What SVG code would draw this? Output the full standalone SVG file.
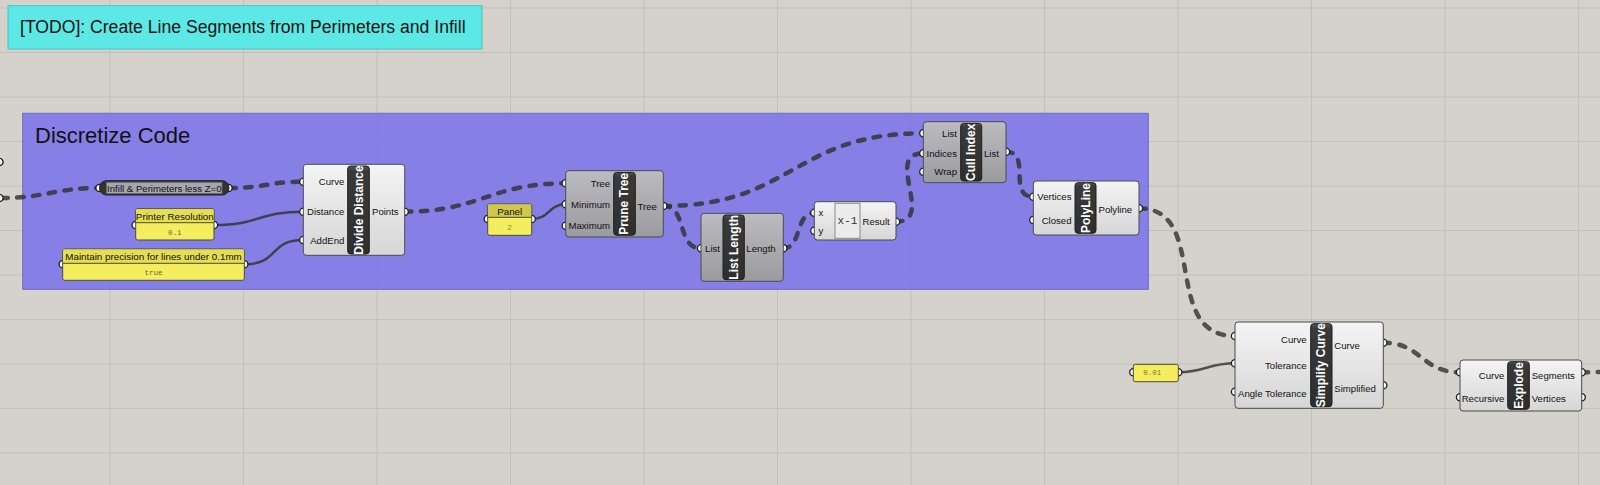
<svg xmlns="http://www.w3.org/2000/svg" width="1600" height="485" viewBox="0 0 1600 485">
<defs>
<linearGradient id="gLight" x1="0" y1="0" x2="0" y2="1"><stop offset="0" stop-color="#f4f4f4"/><stop offset="1" stop-color="#d6d6d6"/></linearGradient>
<linearGradient id="gGray" x1="0" y1="0" x2="0" y2="1"><stop offset="0" stop-color="#bcbcc0"/><stop offset="1" stop-color="#9a9a9f"/></linearGradient>
<linearGradient id="gBar" x1="0" y1="0" x2="0" y2="1"><stop offset="0" stop-color="#555"/><stop offset="0.06" stop-color="#3a3a3a"/><stop offset="1" stop-color="#2e2e2e"/></linearGradient>
<style>
.grid{stroke:#c3bfb9;stroke-width:1}
.body-l{fill:url(#gLight);stroke:#4a4a4a;stroke-width:1}
.body-g{fill:url(#gGray);stroke:#4a4a4a;stroke-width:1}
.bar{fill:url(#gBar);stroke:#1e1e1e;stroke-width:1}
.bt{font-family:"Liberation Sans",Arial,sans-serif;font-weight:bold;font-size:12px;fill:#fff;text-anchor:middle;dominant-baseline:central}
.lbl{font-family:"Liberation Sans",Arial,sans-serif;font-size:9.6px;fill:#111;dominant-baseline:central}
.in{text-anchor:end}
.grip{fill:#fff;stroke:#1e1e1e;stroke-width:1.3}
.wd{fill:none;stroke:#2d2d2d;stroke-opacity:0.78;stroke-width:4.5;stroke-dasharray:6.5 9.5;stroke-linecap:round}
.ws{fill:none;stroke:#2d2d2d;stroke-opacity:0.78;stroke-width:2.5}
.pbody{fill:#f4ee5e;stroke:#4a4a38;stroke-width:1}
.phead{fill:#e6de52}
.ptitle{font-family:"Liberation Sans",Arial,sans-serif;font-size:9.8px;fill:#111;text-anchor:middle;dominant-baseline:central}
.pval{font-family:"Liberation Mono","DejaVu Sans Mono",monospace;font-size:7.5px;fill:#666644;text-anchor:middle;dominant-baseline:central}
</style>
</defs>
<rect x="0" y="0" width="1600" height="485" fill="#d5d1cb"/>
<g id="grid">
<line class="grid" x1="110" y1="0" x2="110" y2="485"/>
<line class="grid" x1="243.5" y1="0" x2="243.5" y2="485"/>
<line class="grid" x1="377" y1="0" x2="377" y2="485"/>
<line class="grid" x1="510.5" y1="0" x2="510.5" y2="485"/>
<line class="grid" x1="644" y1="0" x2="644" y2="485"/>
<line class="grid" x1="777.5" y1="0" x2="777.5" y2="485"/>
<line class="grid" x1="911" y1="0" x2="911" y2="485"/>
<line class="grid" x1="1044.5" y1="0" x2="1044.5" y2="485"/>
<line class="grid" x1="1178" y1="0" x2="1178" y2="485"/>
<line class="grid" x1="1311.5" y1="0" x2="1311.5" y2="485"/>
<line class="grid" x1="1445" y1="0" x2="1445" y2="485"/>
<line class="grid" x1="1578.5" y1="0" x2="1578.5" y2="485"/>
<line class="grid" x1="0" y1="8" x2="1600" y2="8"/>
<line class="grid" x1="0" y1="52.5" x2="1600" y2="52.5"/>
<line class="grid" x1="0" y1="97" x2="1600" y2="97"/>
<line class="grid" x1="0" y1="141.5" x2="1600" y2="141.5"/>
<line class="grid" x1="0" y1="186" x2="1600" y2="186"/>
<line class="grid" x1="0" y1="230.5" x2="1600" y2="230.5"/>
<line class="grid" x1="0" y1="275" x2="1600" y2="275"/>
<line class="grid" x1="0" y1="319.5" x2="1600" y2="319.5"/>
<line class="grid" x1="0" y1="364" x2="1600" y2="364"/>
<line class="grid" x1="0" y1="408.5" x2="1600" y2="408.5"/>
<line class="grid" x1="0" y1="453" x2="1600" y2="453"/>
</g>

<g id="todo">
<rect x="8" y="5.7" width="474" height="43.3" fill="#5ce9e6" stroke="#46c6c3" stroke-width="1"/>
<text x="20" y="32.5" font-family="'Liberation Sans',Arial,sans-serif" font-size="17.6" fill="#111">[TODO]: Create Line Segments from Perimeters and Infill</text>
</g>

<g id="group-discretize">
<rect x="22.7" y="113.3" width="1125.6" height="176" fill="rgb(120,114,235)" fill-opacity="0.85" stroke="#6f69cc" stroke-width="1"/>
<text x="35" y="143.3" font-family="'Liberation Sans',Arial,sans-serif" font-size="22" fill="#111">Discretize Code</text>
</g>

<g id="connectors">
<path class="wd" d="M1,198 C45,198 55,188 99,188"/>
<path class="wd" d="M229,188 C265,188 268,181.7 303.3,181.7"/>
<path class="ws" d="M214,225 C260,225 258,211.7 303.3,211.7"/>
<path class="ws" d="M244.3,264.3 C280,264.3 268,240 303.3,240"/>
<path class="wd" d="M404.7,211.7 C480,211.7 490,183.3 565.7,183.3"/>
<path class="ws" d="M531.7,219 C550,219 548,204.3 565.7,204.3"/>
<path class="wd" d="M663.3,206 C793,206 793,133.3 923.3,133.3"/>
<path class="wd" d="M663.3,206 C688,206 676,248.3 701,248.3"/>
<path class="wd" d="M783.3,248.3 C802,248.3 795,212.7 814.3,212.7"/>
<path class="wd" d="M896,221.7 C936,221.7 883,153.3 923.3,153.3"/>
<path class="wd" d="M1006,151.7 C1032,151.7 1007,196.7 1033.3,196.7"/>
<path class="wd" d="M1139,208.3 C1210,208.3 1160,336 1235,336"/>
<path class="ws" d="M1178.3,372.3 C1205,372.3 1208,363.3 1235,363.3"/>
<path class="wd" d="M1383.3,342.7 C1422,342.7 1421,372.3 1460,372.3"/>
<path class="wd" d="M1581.7,372.3 L1602,372"/>
</g>

<g id="offscreen-grips">
<circle class="grip" cx="-0.5" cy="162" r="3.6"/>
<circle class="grip" cx="-0.5" cy="198" r="3.6"/>
</g>

<g id="relay-infill">
<circle class="grip" cx="99.5" cy="188" r="3.6"/>
<circle class="grip" cx="228.5" cy="188" r="3.6"/>
<rect x="99.5" y="180.7" width="129.5" height="14.3" rx="7" fill="#333" stroke="#1e1e1e"/>
<rect x="106.5" y="182.3" width="115.5" height="11.2" fill="#a6a6ac" stroke="#6a6a70" stroke-width="0.8"/>
<text class="lbl" x="164.3" y="188.3" text-anchor="middle">Infill &amp; Perimeters less Z=0</text>
</g>

<g id="panel-printer-resolution">
<circle class="grip" cx="135.7" cy="225" r="3.6"/>
<circle class="grip" cx="214" cy="225" r="3.6"/>
<rect class="pbody" x="135.7" y="208.7" width="78.3" height="31.3" rx="2"/>
<rect class="phead" x="136.2" y="209.2" width="77.3" height="13.5"/>
<line x1="135.7" y1="222.7" x2="214" y2="222.7" stroke="#4a4a38" stroke-width="1"/>
<text class="ptitle" x="174.8" y="216">Printer Resolution</text>
<text class="pval" x="174.8" y="232.5">0.1</text>
</g>

<g id="panel-maintain-precision">
<circle class="grip" cx="62.7" cy="264.3" r="3.6"/>
<circle class="grip" cx="244.3" cy="264.3" r="3.6"/>
<rect class="pbody" x="62.7" y="249" width="181.6" height="31.3" rx="2"/>
<rect class="phead" x="63.2" y="249.5" width="180.6" height="13.8"/>
<line x1="62.7" y1="263.3" x2="244.3" y2="263.3" stroke="#4a4a38" stroke-width="1"/>
<text class="ptitle" x="153.5" y="256.3">Maintain precision for lines under 0.1mm</text>
<text class="pval" x="153.5" y="272.7">true</text>
</g>

<g id="divide-distance">
<circle class="grip" cx="303.3" cy="181.7" r="3.6"/>
<circle class="grip" cx="303.3" cy="211.7" r="3.6"/>
<circle class="grip" cx="303.3" cy="240" r="3.6"/>
<circle class="grip" cx="404.7" cy="211.7" r="3.6"/>
<rect class="body-l" x="303.3" y="164.3" width="101.4" height="91" rx="3"/>
<rect class="bar" x="347.7" y="166" width="21.6" height="88" rx="3"/>
<text class="bt" transform="rotate(-90 358.5 210)" x="358.5" y="210">Divide Distance</text>
<text class="lbl in" x="344.3" y="181.7">Curve</text>
<text class="lbl in" x="344.3" y="211.7">Distance</text>
<text class="lbl in" x="344.3" y="240">AddEnd</text>
<text class="lbl" x="372" y="211.7">Points</text>
</g>

<g id="panel-2">
<circle class="grip" cx="487.7" cy="219" r="3.6"/>
<circle class="grip" cx="531.7" cy="219" r="3.6"/>
<rect class="pbody" x="487.7" y="204" width="44" height="31.3" rx="2"/>
<rect x="488.2" y="204.5" width="43" height="12.8" fill="#cfc84a"/>
<line x1="487.7" y1="217.3" x2="531.7" y2="217.3" stroke="#4a4a38" stroke-width="1"/>
<text class="ptitle" x="509.7" y="211.5">Panel</text>
<text x="509.7" y="227" font-family="'Liberation Sans',Arial,sans-serif" font-size="7.5" fill="#6f8a1e" text-anchor="middle" dominant-baseline="central">2</text>
</g>

<g id="prune-tree">
<circle class="grip" cx="565.7" cy="183.3" r="3.6"/>
<circle class="grip" cx="565.7" cy="204.3" r="3.6"/>
<circle class="grip" cx="565.7" cy="225.7" r="3.6"/>
<circle class="grip" cx="663.3" cy="206" r="3.6"/>
<rect class="body-g" x="565.7" y="170.7" width="97.6" height="66.3" rx="3"/>
<rect class="bar" x="613.7" y="172.4" width="21.6" height="62.8" rx="3"/>
<text class="bt" transform="rotate(-90 624.5 203.8)" x="624.5" y="203.8">Prune Tree</text>
<text class="lbl in" x="610" y="183.3">Tree</text>
<text class="lbl in" x="610" y="204.3">Minimum</text>
<text class="lbl in" x="610" y="225.7">Maximum</text>
<text class="lbl" x="637.5" y="206">Tree</text>
</g>

<g id="list-length">
<circle class="grip" cx="701" cy="248.3" r="3.6"/>
<circle class="grip" cx="783.3" cy="248.3" r="3.6"/>
<rect class="body-g" x="701" y="213.3" width="82.3" height="68" rx="3"/>
<rect class="bar" x="723" y="215" width="21.3" height="64.7" rx="3"/>
<text class="bt" transform="rotate(-90 733.7 247.3)" x="733.7" y="247.3">List Length</text>
<text class="lbl in" x="720" y="248.3">List</text>
<text class="lbl" x="746.3" y="248.3">Length</text>
</g>

<g id="expression">
<circle class="grip" cx="814.3" cy="212.7" r="3.6"/>
<circle class="grip" cx="814.3" cy="230.7" r="3.6"/>
<circle class="grip" cx="896" cy="221.7" r="3.6"/>
<rect class="body-l" x="814.3" y="201.7" width="81.7" height="38.3" rx="3"/>
<rect x="835" y="203.3" width="25" height="35" fill="#ececec" stroke="#8a8a8a" stroke-width="1"/>
<text x="847.5" y="221" font-family="'Liberation Mono','DejaVu Sans Mono',monospace" font-size="11" fill="#333" text-anchor="middle" dominant-baseline="central">x-1</text>
<text class="lbl" x="818.5" y="212.7">x</text>
<text class="lbl" x="818.5" y="230.7">y</text>
<text class="lbl" x="862.5" y="221.7">Result</text>
</g>

<g id="cull-index">
<circle class="grip" cx="923.3" cy="133.3" r="3.6"/>
<circle class="grip" cx="923.3" cy="153.3" r="3.6"/>
<circle class="grip" cx="923.3" cy="171.7" r="3.6"/>
<circle class="grip" cx="1006" cy="151.7" r="3.6"/>
<rect class="body-g" x="923.3" y="121.7" width="82.7" height="61" rx="3"/>
<rect class="bar" x="960.7" y="123.4" width="21" height="57.6" rx="3"/>
<text class="bt" transform="rotate(-90 971.2 152.2)" x="971.2" y="152.2">Cull Index</text>
<text class="lbl in" x="957" y="133.3">List</text>
<text class="lbl in" x="957" y="153.3">Indices</text>
<text class="lbl in" x="957" y="171.7">Wrap</text>
<text class="lbl" x="984" y="153">List</text>
</g>

<g id="polyline">
<circle class="grip" cx="1033.3" cy="196.7" r="3.6"/>
<circle class="grip" cx="1033.3" cy="220" r="3.6"/>
<circle class="grip" cx="1139" cy="208.3" r="3.6"/>
<rect class="body-l" x="1033.3" y="181" width="105.7" height="54" rx="3"/>
<rect class="bar" x="1075" y="182.7" width="21" height="50.6" rx="3"/>
<text class="bt" transform="rotate(-90 1085.5 208)" x="1085.5" y="208">PolyLine</text>
<text class="lbl in" x="1071.5" y="196.7">Vertices</text>
<text class="lbl in" x="1071.5" y="220.7">Closed</text>
<text class="lbl" x="1098.5" y="209.5">Polyline</text>
</g>

<g id="panel-tolerance">
<circle class="grip" cx="1133.3" cy="372.3" r="3.6"/>
<circle class="grip" cx="1178.3" cy="372.3" r="3.6"/>
<rect class="pbody" x="1133.3" y="364.3" width="45" height="17.4" rx="2"/>
<text x="1143.3" y="373" font-family="'Liberation Mono','DejaVu Sans Mono',monospace" font-size="7.5" fill="#777744" dominant-baseline="central">0.01</text>
</g>

<g id="simplify-curve">
<circle class="grip" cx="1235" cy="336" r="3.6"/>
<circle class="grip" cx="1235" cy="363.3" r="3.6"/>
<circle class="grip" cx="1235" cy="391.7" r="3.6"/>
<circle class="grip" cx="1383.3" cy="342.7" r="3.6"/>
<circle class="grip" cx="1383.3" cy="385.3" r="3.6"/>
<rect class="body-l" x="1235" y="322" width="148.3" height="86.3" rx="3"/>
<rect class="bar" x="1310.7" y="323.7" width="21.3" height="83" rx="3"/>
<text class="bt" transform="rotate(-90 1321.3 365.2)" x="1321.3" y="365.2">Simplify Curve</text>
<text class="lbl in" x="1306.7" y="339">Curve</text>
<text class="lbl in" x="1306.7" y="365.7">Tolerance</text>
<text class="lbl in" x="1306.7" y="393.7">Angle Tolerance</text>
<text class="lbl" x="1334.3" y="345.7">Curve</text>
<text class="lbl" x="1334.3" y="388">Simplified</text>
</g>

<g id="explode">
<circle class="grip" cx="1460" cy="372.3" r="3.6"/>
<circle class="grip" cx="1460" cy="397.3" r="3.6"/>
<circle class="grip" cx="1581.7" cy="372.3" r="3.6"/>
<circle class="grip" cx="1581.7" cy="397.3" r="3.6"/>
<rect class="body-l" x="1460" y="360" width="121.7" height="51" rx="3"/>
<rect class="bar" x="1507.7" y="361.7" width="21.6" height="47.6" rx="3"/>
<text class="bt" transform="rotate(-90 1518.5 385.5)" x="1518.5" y="385.5">Explode</text>
<text class="lbl in" x="1504.3" y="375">Curve</text>
<text class="lbl in" x="1504.3" y="398.7">Recursive</text>
<text class="lbl" x="1531.7" y="375">Segments</text>
<text class="lbl" x="1531.7" y="398.7">Vertices</text>
</g>
</svg>
